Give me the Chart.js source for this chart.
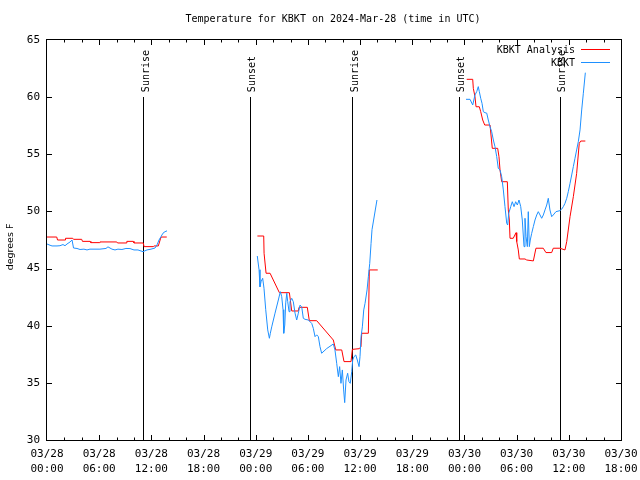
<!DOCTYPE html>
<html>
<head>
<meta charset="utf-8">
<script src="https://cdn.jsdelivr.net/npm/chart.js@4/dist/chart.umd.min.js"></script>
<style>
  html, body { margin: 0; padding: 0; background: #fff; }
  canvas { display: block; }
</style>
</head>
<body>
<canvas id="c" width="640" height="480"></canvas>
<script>
// ---- DATA (hours since 03/28 00:00 UTC, temperatures in degrees F) ----
const titleText = 'Temperature for KBKT on 2024-Mar-28 (time in UTC)';
const yAxisLabel = 'degrees F';
const seriesNames = ['KBKT Analysis', 'KBKT'];

const xTickDates = ['03/28','03/28','03/28','03/28','03/29','03/29','03/29','03/29','03/30','03/30','03/30','03/30'];
const xTickTimes = ['00:00','06:00','12:00','18:00','00:00','06:00','12:00','18:00','00:00','06:00','12:00','18:00'];

const analysisHours = [
  0,1.12,1.21,2.07,2.13,2.96,3.05,3.99,4.08,4.95,5.04,6.01,6.09,8.02,8.11,9.09,9.18,9.92,10.0,11.07,11.16,12.22,12.31,12.8,13.11,13.77,
  19,
  24.19,24.92,24.96,25.19,25.65,26.72,27.87,28.14,28.9,28.98,29.93,30.16,31.01,32.92,33.2,33.89,34.15,34.96,35.11,35.91,36.1,36.19,36.95,37.06,38.03,
  43,
  48.26,48.95,49.02,49.21,49.33,49.71,49.87,50.1,50.33,50.94,51.2,51.82,51.97,52.09,52.28,52.93,53.04,53.16,53.24,53.61,53.93,54.01,54.19,54.31,54.96,55.16,55.92,56.22,57.06,57.37,58.03,58.21,58.98,59.56,59.76,60.14,60.52,60.9,61.2,61.37,61.9
];
const analysisTemps = [
  47.76,47.76,47.5,47.5,47.65,47.65,47.56,47.56,47.38,47.38,47.27,47.27,47.33,47.33,47.24,47.24,47.38,47.38,47.24,47.24,46.92,46.92,46.98,46.98,47.76,47.76,
  null,
  47.85,47.85,46.34,44.59,44.59,42.89,42.89,41.29,41.29,41.61,41.61,40.44,40.44,38.75,37.88,37.88,36.86,36.86,37.93,37.99,38.17,39.34,39.34,44.88,44.88,
  null,
  61.56,61.56,60.77,60.04,59.16,59.16,58.73,58.0,57.56,57.56,55.52,55.52,54.79,53.63,52.6,52.6,50.13,49.25,47.65,47.65,48.14,47.36,46.63,45.84,45.84,45.75,45.67,46.78,46.78,46.4,46.4,46.78,46.78,46.63,47.36,49.54,51.29,53.33,55.96,56.16,56.16
];

const kbktHours = [
  0,0.35,0.58,1.15,1.49,1.84,2.07,2.3,2.65,2.88,3.05,3.45,3.8,4.25,4.6,4.94,5.52,6.09,6.78,7.01,7.47,7.82,8.16,8.62,9.08,9.54,10.0,10.46,11.04,11.5,11.96,12.42,12.65,12.88,13.11,13.34,13.57,13.8,
  19,
  24.18,24.38,24.49,24.61,24.8,24.95,25.15,25.38,25.57,25.68,25.84,26.22,26.6,26.83,26.99,27.14,27.22,27.34,27.45,27.57,27.68,27.83,27.94,28.14,28.32,28.52,28.71,28.9,29.09,29.29,29.47,29.67,30.05,30.44,30.62,30.82,31.01,31.2,31.39,31.58,32.16,32.92,33.11,33.31,33.5,33.65,33.8,33.96,34.11,34.23,34.38,34.57,34.72,34.87,35.04,35.15,35.3,35.5,35.68,35.88,35.99,36.11,36.26,36.42,36.57,36.8,36.95,37.11,37.26,37.37,37.94,
  43,
  48.18,48.64,48.95,49.21,49.41,49.59,49.71,49.87,50.02,50.17,50.36,50.56,50.74,50.94,51.13,51.32,51.51,51.71,51.89,52.09,52.28,52.47,52.66,52.86,52.97,53.09,53.32,53.5,53.7,53.89,54.08,54.27,54.47,54.65,54.85,54.96,55.08,55.23,55.34,55.46,55.57,55.73,55.92,56.11,56.31,56.49,56.69,56.88,57.07,57.26,57.46,57.64,57.83,58.03,58.21,58.52,58.98,59.18,59.37,59.56,59.76,59.94,60.14,60.33,60.52,60.71,60.9,61.09,61.29,61.48,61.67,61.9
];
const kbktTemps = [
  47.15,47.04,46.98,46.98,47.0,47.1,47.0,47.15,47.33,47.5,46.8,46.76,46.67,46.7,46.63,46.7,46.7,46.7,46.76,46.9,46.7,46.63,46.7,46.67,46.76,46.75,46.63,46.63,46.48,46.63,46.7,46.8,47.07,47.5,47.8,48.1,48.23,48.3,
  null,
  46.1,44.9,43.4,43.85,44.15,43.28,41.4,39.63,38.9,39.34,39.9,41.1,42.25,42.98,42.54,41.4,39.34,40.06,42.0,42.84,42.1,41.23,42.1,42.4,42.1,41.1,40.5,41.1,41.8,41.65,40.65,40.56,40.5,40.2,39.77,39.04,39.2,39.04,38.17,37.59,38.0,38.4,37.88,36.71,35.54,36.42,34.96,36.13,34.38,33.27,35.25,35.84,35.1,34.96,35.98,37.0,37.29,37.44,37.0,36.42,37.29,39.04,39.9,41.38,41.96,43.13,44.29,45.46,47.2,48.4,51.0,
  null,
  59.81,59.81,59.31,60.19,60.48,60.92,60.48,59.9,59.46,58.73,58.64,58.6,58.0,57.41,56.98,56.25,55.67,54.79,53.77,53.63,53.04,51.88,50.42,48.96,48.81,49.83,50.42,50.85,50.42,50.85,50.56,51.0,50.42,49.25,46.92,49.4,47.8,46.92,49.98,46.92,47.5,48.08,48.67,49.25,49.69,49.98,49.69,49.4,49.69,50.13,50.56,51.15,50.13,49.54,49.69,49.98,50.07,50.2,50.42,50.71,51.15,51.73,52.46,53.19,53.92,54.65,55.38,56.1,57.13,58.88,60.34,62.14
];

const sunHours = [11.04, 23.34, 35.07, 47.37, 58.98];
const sunLabels = ['Sunrise', 'Sunset', 'Sunrise', 'Sunset', 'Sunrise'];
const sunLineFrom = 30, sunLineTo = 60;

// ---- build chart ----
const RED = '#ff0000';
const BLUE = '#1e90ff';
const MONO = '"DejaVu Sans Mono", "Liberation Mono", monospace';

function toPoints(xs, ys) { return xs.map((x, i) => ({ x: x, y: ys[i] })); }

const datasets = [
  { label: seriesNames[0], data: toPoints(analysisHours, analysisTemps), borderColor: RED, borderWidth: 1, pointRadius: 0, spanGaps: false, order: 2 },
  { label: seriesNames[1], data: toPoints(kbktHours, kbktTemps), borderColor: BLUE, borderWidth: 1, pointRadius: 0, spanGaps: false, order: 1 }
];

// sun event lines (drawn under the data, snapped to the pixel grid)
const sunLinesPlugin = {
  id: 'sunLines',
  beforeDatasetsDraw(chart) {
    const ctx = chart.ctx;
    const xs = chart.scales.x, ys = chart.scales.y;
    ctx.save();
    ctx.strokeStyle = '#000';
    ctx.lineWidth = 1;
    ctx.beginPath();
    sunHours.forEach((h) => {
      const px = Math.round(xs.getPixelForValue(h)) + 0.5;
      ctx.moveTo(px, Math.round(ys.getPixelForValue(sunLineFrom)));
      ctx.lineTo(px, Math.round(ys.getPixelForValue(sunLineTo)));
    });
    ctx.stroke();
    ctx.restore();
  }
};

const decorPlugin = {
  id: 'decor',
  afterDraw(chart) {
    const ctx = chart.ctx;
    const { left, right, top, bottom } = chart.chartArea;
    const xs = chart.scales.x, ys = chart.scales.y;
    ctx.save();
    ctx.strokeStyle = '#000';
    ctx.lineWidth = 1;
    // frame
    ctx.strokeRect(left - 0.5, top - 0.5, right - left + 1, bottom - top + 1);
    // x ticks (mirrored, inward)
    ctx.beginPath();
    for (let h = 2; h < 66; h += 2) {
      const px = Math.round(xs.getPixelForValue(h)) + 0.5;
      const len = (h % 6 === 0) ? 5 : 2.5;
      ctx.moveTo(px, bottom); ctx.lineTo(px, bottom - len);
      ctx.moveTo(px, top); ctx.lineTo(px, top + len);
    }
    // y ticks
    for (let v = 35; v < 65; v += 5) {
      const py = Math.round(ys.getPixelForValue(v)) + 0.5;
      ctx.moveTo(left, py); ctx.lineTo(left + 5, py);
      ctx.moveTo(right, py); ctx.lineTo(right - 5, py);
    }
    ctx.stroke();

    ctx.fillStyle = '#000';
    // title
    ctx.font = '10px ' + MONO;
    ctx.textAlign = 'center';
    ctx.textBaseline = 'middle';
    ctx.fillText(titleText, 333, 19);

    // y axis label
    ctx.save();
    ctx.font = '9.5px "DejaVu Sans", sans-serif';
    ctx.translate(11, 247);
    ctx.rotate(-Math.PI / 2);
    ctx.textAlign = 'center';
    ctx.textBaseline = 'middle';
    ctx.fillText(yAxisLabel, 0, 0);
    ctx.restore();

    // sun labels
    ctx.font = '10px ' + MONO;
    sunHours.forEach((h, i) => {
      const px = xs.getPixelForValue(h);
      const py = ys.getPixelForValue(sunLineTo) - 5;
      ctx.save();
      ctx.translate(px + 5.5, py);
      ctx.rotate(-Math.PI / 2);
      ctx.textAlign = 'left';
      ctx.textBaseline = 'alphabetic';
      ctx.fillText(sunLabels[i], 0, 0);
      ctx.restore();
    });

    // legend
    ctx.font = '10px ' + MONO;
    ctx.textAlign = 'right';
    ctx.textBaseline = 'middle';
    const legY = [49.5, 62.5], legCol = [RED, BLUE];
    seriesNames.forEach((n, i) => {
      ctx.fillStyle = '#000';
      ctx.fillText(n, 575, legY[i] + 0.5);
      ctx.strokeStyle = legCol[i];
      ctx.beginPath();
      ctx.moveTo(581, legY[i]); ctx.lineTo(610, legY[i]);
      ctx.stroke();
    });
    ctx.restore();
  }
};

new Chart(document.getElementById('c'), {
  type: 'line',
  data: { datasets: datasets },
  options: {
    responsive: false,
    animation: false,
    devicePixelRatio: 1,
    layout: { padding: { left: 0, right: 19, top: 40, bottom: 0 } },
    plugins: { legend: { display: false }, title: { display: false }, tooltip: { enabled: false } },
    elements: { line: { tension: 0 }, point: { radius: 0 } },
    scales: {
      x: {
        type: 'linear', min: 0, max: 66,
        grid: { display: false, drawTicks: false },
        border: { display: false },
        ticks: {
          stepSize: 6, autoSkip: false, maxRotation: 0, minRotation: 0, padding: 7,
          color: '#000', font: { family: MONO, size: 11, lineHeight: 1.36 },
          callback: (v, i) => [xTickDates[i], xTickTimes[i]]
        },
        afterFit: (s) => { s.height = 40; s.paddingLeft = 0; s.paddingRight = 0; }
      },
      y: {
        min: 30, max: 65,
        grid: { display: false, drawTicks: false },
        border: { display: false },
        ticks: { stepSize: 5, padding: 7, color: '#000', font: { family: MONO, size: 11 } },
        afterFit: (s) => { s.width = 47; s.paddingTop = 0; s.paddingBottom = 0; }
      }
    }
  },
  plugins: [sunLinesPlugin, decorPlugin]
});
</script>
</body>
</html>
